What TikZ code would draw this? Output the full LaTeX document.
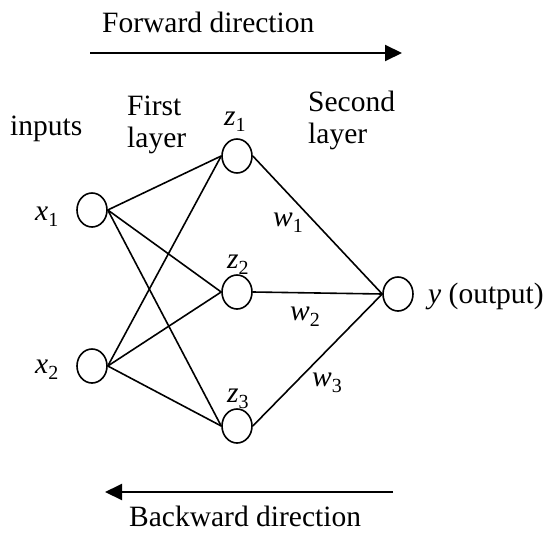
\documentclass[tikz,border=0pt]{standalone}
\usepackage{fontspec}
\setmainfont{Liberation Serif}
\usetikzlibrary{shapes.geometric,arrows.meta}
\newcommand\lbsub[2]{\textit{#1}\raisebox{-0.22em}{\fontsize{20}{20}\selectfont #2}}
\begin{document}
\begin{tikzpicture}[x=1pt,y=-1pt,
  neuron/.style={draw,line width=1.6pt,ellipse,minimum width=30pt,minimum height=34pt,inner sep=0pt},
  txt/.style={anchor=base west,inner sep=0pt,font=\fontsize{29.5}{32}\selectfont},
  link/.style={line width=1.6pt},
  dirarrow/.style={line width=2pt,-{Triangle[length=17pt,width=16pt]}}]
\useasboundingbox (0,0) rectangle (556,532);
% neurons
\node[neuron] (x1) at (92,210) {};
\node[neuron] (x2) at (92,366) {};
\node[neuron] (z1) at (237,156) {};
\node[neuron] (z2) at (237,292) {};
\node[neuron] (z3) at (237,426) {};
\node[neuron] (y) at (398,294) {};
% connections
\foreach \a in {x1,x2}{\foreach \b in {z1,z2,z3}{\draw[link] (\a.east) -- (\b.west);}}
\foreach \b in {z1,z2,z3}{\draw[link] (\b.east) -- (y.west);}
% labels
\node[txt] (tfwd) at (102,33) {Forward direction};
\node[txt] (tinp) at (10,135) {inputs};
\node[txt] (tfirst) at (127,115) {First};
\node[txt] (tlay1) at (127,147) {layer};
\node[txt] (tsec) at (308,111) {Second};
\node[txt] (tlay2) at (308,143) {layer};
\node[txt] (lx1) at (35,220) {\lbsub{x}{1}};
\node[txt] (lx2) at (35,373) {\lbsub{x}{2}};
\node[txt] (lz1) at (224,125) {\lbsub{z}{1}};
\node[txt] (lz2) at (227,268) {\lbsub{z}{2}};
\node[txt] (lz3) at (227,402) {\lbsub{z}{3}};
\node[txt] (lw1) at (273,226) {\lbsub{w}{1}};
\node[txt] (lw2) at (290,320) {\lbsub{w}{2}};
\node[txt] (lw3) at (312,386) {\lbsub{w}{3}};
\node[txt] (ly) at (428,303) {\textit{y} (output)};
\node[txt] (tbwd) at (129,526) {Backward direction};
% direction arrows
\coordinate (f0) at (90,53);
\coordinate (f1) at (402,53);
\coordinate (b0) at (393,492);
\coordinate (b1) at (105,492);
\draw[dirarrow] (f0) -- (f1);
\draw[dirarrow] (b0) -- (b1);
\end{tikzpicture}
\end{document}
